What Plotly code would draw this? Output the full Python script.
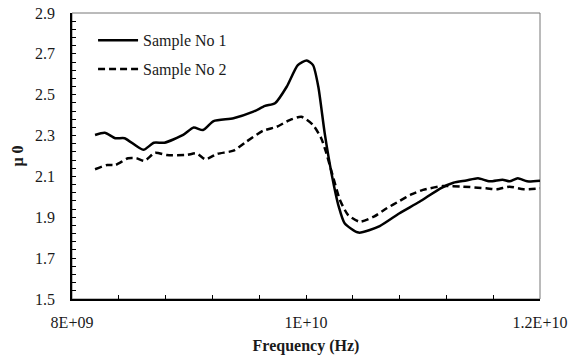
import plotly.graph_objects as go

# Frequency (Hz) and mu0 values
freq_s1 = [8.197e9, 8.28e9, 8.37e9, 8.45e9, 8.61e9, 8.70e9, 8.79e9, 8.95e9, 9.04e9, 9.12e9,
           9.21e9, 9.38e9, 9.55e9, 9.65e9, 9.735e9, 9.835e9, 9.93e9, 10.006e9, 10.06e9,
           10.105e9, 10.16e9, 10.22e9, 10.28e9, 10.33e9, 10.45e9, 10.63e9, 10.80e9, 10.97e9,
           11.15e9, 11.26e9, 11.37e9, 11.47e9, 11.57e9, 11.68e9, 11.74e9, 11.81e9, 11.89e9, 12.0e9]
mu_s1 = [2.303, 2.314, 2.287, 2.287, 2.230, 2.265, 2.265, 2.303, 2.339, 2.327,
         2.371, 2.385, 2.417, 2.445, 2.458, 2.539, 2.645, 2.667, 2.645,
         2.540, 2.311, 2.110, 1.952, 1.871, 1.825, 1.857, 1.920, 1.976,
         2.042, 2.069, 2.080, 2.091, 2.076, 2.084, 2.076, 2.091, 2.076, 2.079]

freq_s2 = [8.197e9, 8.30e9, 8.37e9, 8.48e9, 8.55e9, 8.62e9, 8.71e9, 8.81e9, 8.98e9, 9.066e9,
           9.14e9, 9.24e9, 9.38e9, 9.49e9, 9.635e9, 9.75e9, 9.86e9, 9.96e9, 10.06e9,
           10.13e9, 10.17e9, 10.23e9, 10.29e9, 10.36e9, 10.46e9, 10.58e9, 10.69e9, 10.80e9,
           10.90e9, 11.00e9, 11.17e9, 11.34e9, 11.54e9, 11.63e9, 11.74e9, 11.86e9, 12.0e9]
mu_s2 = [2.135, 2.156, 2.156, 2.189, 2.189, 2.176, 2.216, 2.205, 2.205, 2.213,
         2.184, 2.210, 2.226, 2.270, 2.324, 2.343, 2.376, 2.392, 2.352,
         2.287, 2.221, 2.100, 1.985, 1.911, 1.878, 1.903, 1.944, 1.980,
         2.012, 2.034, 2.053, 2.050, 2.042, 2.037, 2.050, 2.037, 2.042]

x_tickvals = [8e9, 1e10, 1.2e10]
x_ticktext = ["8E+09", "1E+10", "1.2E+10"]
y_tickvals = [1.5, 1.7, 1.9, 2.1, 2.3, 2.5, 2.7, 2.9]

FONT = "Liberation Serif"
TXT = "#1a1a1a"

fig = go.Figure()
fig.add_trace(go.Scatter(x=freq_s1, y=mu_s1, mode="lines", name="Sample No 1",
                         legendgroup="a",
                         line=dict(color="black", width=2.5, shape="spline", smoothing=0.6)))
fig.add_trace(go.Scatter(x=freq_s2, y=mu_s2, mode="lines", name="Sample No 2",
                         legendgroup="b",
                         line=dict(color="black", width=2.5, dash="7px,4px", shape="spline", smoothing=0.6)))

fig.update_layout(
    width=574, height=355,
    margin=dict(l=72, r=34, t=13, b=56, autoexpand=False),
    paper_bgcolor="white", plot_bgcolor="white",
    font=dict(family=FONT, size=16, color=TXT),
    showlegend=True,
    legend=dict(x=0.045, y=0.964, xanchor="left", yanchor="top",
                bgcolor="rgba(0,0,0,0)", font=dict(family=FONT, size=16, color=TXT),
                traceorder="grouped", tracegroupgap=5, itemwidth=40),
    shapes=[dict(type="rect", xref="paper", yref="paper", x0=0, y0=0, x1=1, y1=1,
                 line=dict(color="#777", width=1), fillcolor="rgba(0,0,0,0)", layer="below")],
)

fig.update_xaxes(
    range=[8e9, 1.2e10], tickvals=x_tickvals, ticktext=x_ticktext,
    showgrid=False, zeroline=False, automargin=False,
    showline=True, linecolor="black", linewidth=1.5,
    ticks="inside", ticklen=4, tickcolor="black", ticklabelstandoff=8,
    minor=dict(dtick=4e8, tick0=8e9, ticks="inside", ticklen=4, tickcolor="black", showgrid=False),
    tickfont=dict(family=FONT, size=16, color=TXT),
    title=dict(text="<b>Frequency (Hz)</b>", font=dict(family=FONT, size=16, color=TXT), standoff=15),
)
fig.update_yaxes(
    range=[1.5, 2.9], tickvals=y_tickvals, ticktext=[f"{v:.1f}" for v in y_tickvals],
    showgrid=False, zeroline=False, automargin=False,
    showline=True, linecolor="black", linewidth=1.5,
    ticks="inside", ticklen=4, tickcolor="black", ticklabelstandoff=12,
    minor=dict(dtick=0.04, tick0=1.5, ticks="inside", ticklen=4, tickcolor="black", showgrid=False),
    tickfont=dict(family=FONT, size=16, color=TXT),
    title=dict(text="<b>μ 0</b>", font=dict(family=FONT, size=16, color=TXT), standoff=7),
)

fig.write_html("out.html", config={"displayModeBar": False},
               post_script="document.body.style.margin='0';document.body.style.overflow='hidden';")
